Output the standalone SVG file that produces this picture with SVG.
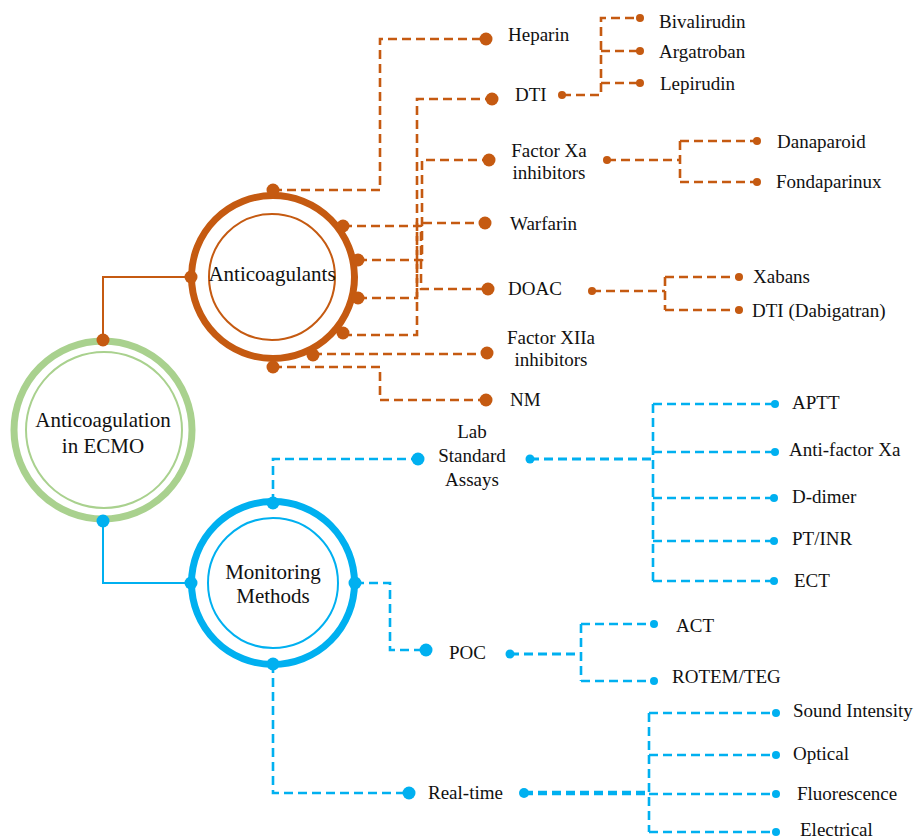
<svg xmlns="http://www.w3.org/2000/svg" width="917" height="839" viewBox="0 0 917 839" font-family="'Liberation Serif', 'Times New Roman', 'DejaVu Serif', serif">
<style>
text{font-family:'Liberation Serif','Times New Roman','DejaVu Serif',serif;fill:#111;}
.leaf{font-size:19px;}
.hub{font-size:21px;text-anchor:middle;}
.mid{text-anchor:middle;}
.o{stroke:#C55A11;fill:none;}
.b{stroke:#00B0F0;fill:none;}
.d{stroke-width:2.6;stroke-dasharray:9 5;}
.of{fill:#C55A11;}
.bf{fill:#00B0F0;}
</style>
<rect width="917" height="839" fill="#fff"/>
<g id="connectors">
  <path class="o" stroke-width="2" d="M103,340 V277 H191"/>
  <path class="b" stroke-width="2" d="M103,521 V583 H191"/>
  <path class="o d" d="M273,190 H380 V39 H486"/>
  <path class="o d" d="M343,335 H417 V99 H492"/>
  <path class="o d" d="M358,260 H422 V160 H489"/>
  <path class="o d" d="M358,298 H417 V223 H485"/>
  <path class="o d" d="M343,226 H421 V289 H488"/>
  <path class="o d" d="M313,354 H487"/>
  <path class="o d" d="M273,367 H380 V400 H486"/>
  <path class="o d" d="M562,95 H601 V18 H640 M601,51 H640 M601,83 H640"/>
  <path class="o d" d="M607,160 H680 M680,141 V182 M680,141 H757 M680,182 H757"/>
  <path class="o d" d="M592,291 H665 M665,277 V310 M665,277 H739 M665,310 H739"/>
  <path class="b d" d="M273,503 V459 H418"/>
  <path class="b d" d="M355,583 H390 V650 H426"/>
  <path class="b d" d="M273,664 V793 H409"/>
  <path class="b" stroke-width="3" stroke-dasharray="9 5" d="M530,459 H653"/>
  <path class="b d" d="M653,404 V581 M653,404 H775 M653,452 H775 M653,498 H774 M653,541 H774 M653,581 H774"/>
  <path class="b" stroke-width="3" stroke-dasharray="9 5" d="M510,654 H581"/>
  <path class="b d" d="M581,624 V681 M581,624 H654 M581,681 H654"/>
  <path class="b" stroke-width="4.5" stroke-dasharray="9 5" d="M524,793 H645"/>
  <path class="b d" d="M649,713 V832 M649,713 H776 M649,755 H776 M649,794 H776 M649,832 H776"/>
</g>
<g id="ecmo">
  <circle cx="103" cy="430" r="89" fill="none" stroke="#A9D18E" stroke-width="7"/>
  <circle cx="104" cy="430" r="78" fill="none" stroke="#A9D18E" stroke-width="2"/>
  <circle cx="103" cy="340" r="6.5" class="of"/>
  <circle cx="103" cy="521" r="6.5" class="bf"/>
  <text class="hub" x="103" y="427">Anticoagulation</text>
  <text class="hub" x="103" y="453">in ECMO</text>
</g>
<g id="anticoagulants">
  <circle cx="273" cy="277" r="81.5" fill="none" stroke="#C55A11" stroke-width="7"/>
  <circle cx="272" cy="277" r="63" fill="none" stroke="#C55A11" stroke-width="2"/>
  <circle cx="191" cy="277" r="6.5" class="of"/>
  <circle cx="273" cy="190" r="6.5" class="of"/>
  <circle cx="343" cy="226" r="6.5" class="of"/>
  <circle cx="358" cy="260" r="6.5" class="of"/>
  <circle cx="358" cy="298" r="6.5" class="of"/>
  <circle cx="343" cy="333" r="6.5" class="of"/>
  <circle cx="313" cy="355" r="6.5" class="of"/>
  <circle cx="273" cy="367" r="6.5" class="of"/>
  <text class="hub" x="272" y="281">Anticoagulants</text>
</g>
<g id="monitoring">
  <circle cx="273" cy="583" r="81.5" fill="none" stroke="#00B0F0" stroke-width="7"/>
  <circle cx="273" cy="583" r="65" fill="none" stroke="#00B0F0" stroke-width="2"/>
  <circle cx="191" cy="583" r="6.5" class="bf"/>
  <circle cx="273" cy="503" r="6.5" class="bf"/>
  <circle cx="355" cy="583" r="6.5" class="bf"/>
  <circle cx="273" cy="664" r="6.5" class="bf"/>
  <text class="hub" x="273" y="579">Monitoring</text>
  <text class="hub" x="273" y="603">Methods</text>
</g>
<g id="heparin"><circle cx="486" cy="39" r="6.5" class="of"/><text class="leaf" x="508" y="41">Heparin</text></g>
<g id="dti"><circle cx="492" cy="99" r="6.5" class="of"/><text class="leaf" x="515" y="101">DTI</text><circle cx="562" cy="95" r="4" class="of"/></g>
<g id="bivalirudin"><circle cx="640" cy="18" r="4" class="of"/><text class="leaf" x="659" y="28">Bivalirudin</text></g>
<g id="argatroban"><circle cx="640" cy="51" r="4" class="of"/><text class="leaf" x="659" y="58">Argatroban</text></g>
<g id="lepirudin"><circle cx="640" cy="83" r="4" class="of"/><text class="leaf" x="660" y="90">Lepirudin</text></g>
<g id="factorxa"><circle cx="489" cy="160" r="6.5" class="of"/><text class="leaf mid" x="549" y="157">Factor Xa</text><text class="leaf mid" x="549" y="179">inhibitors</text><circle cx="607" cy="160" r="4" class="of"/></g>
<g id="danaparoid"><circle cx="757" cy="141" r="4" class="of"/><text class="leaf" x="777" y="148">Danaparoid</text></g>
<g id="fondaparinux"><circle cx="757" cy="182" r="4" class="of"/><text class="leaf" x="776" y="188">Fondaparinux</text></g>
<g id="warfarin"><circle cx="485" cy="223" r="6.5" class="of"/><text class="leaf" x="510" y="230">Warfarin</text></g>
<g id="doac"><circle cx="488" cy="289" r="6.5" class="of"/><text class="leaf" x="508" y="295">DOAC</text><circle cx="592" cy="291" r="4" class="of"/></g>
<g id="xabans"><circle cx="739" cy="277" r="4" class="of"/><text class="leaf" x="753" y="283">Xabans</text></g>
<g id="dabigatran"><circle cx="739" cy="310" r="4" class="of"/><text class="leaf" x="752" y="317">DTI (Dabigatran)</text></g>
<g id="factorxiia"><circle cx="487" cy="353" r="6.5" class="of"/><text class="leaf mid" x="551" y="344">Factor XIIa</text><text class="leaf mid" x="551" y="366">inhibitors</text></g>
<g id="nm"><circle cx="486" cy="400" r="6.5" class="of"/><text class="leaf" x="510" y="406">NM</text></g>
<g id="lab"><circle cx="418" cy="459" r="6.5" class="bf"/><text class="leaf mid" x="472" y="438">Lab</text><text class="leaf mid" x="472" y="462">Standard</text><text class="leaf mid" x="472" y="486">Assays</text><circle cx="530" cy="459" r="4.5" class="bf"/></g>
<g id="aptt"><circle cx="775" cy="404" r="4" class="bf"/><text class="leaf" x="792" y="409">APTT</text></g>
<g id="antixa"><circle cx="775" cy="452" r="4" class="bf"/><text class="leaf" x="789" y="456">Anti-factor Xa</text></g>
<g id="ddimer"><circle cx="774" cy="498" r="4" class="bf"/><text class="leaf" x="792" y="503">D-dimer</text></g>
<g id="ptinr"><circle cx="774" cy="541" r="4" class="bf"/><text class="leaf" x="792" y="545">PT/INR</text></g>
<g id="ect"><circle cx="774" cy="581" r="4" class="bf"/><text class="leaf" x="794" y="587">ECT</text></g>
<g id="poc"><circle cx="426" cy="650" r="6.5" class="bf"/><text class="leaf" x="449" y="659">POC</text><circle cx="510" cy="654" r="4.5" class="bf"/></g>
<g id="act"><circle cx="654" cy="624" r="4" class="bf"/><text class="leaf" x="676" y="632">ACT</text></g>
<g id="rotem"><circle cx="654" cy="681" r="4" class="bf"/><text class="leaf" x="672" y="683">ROTEM/TEG</text></g>
<g id="realtime"><circle cx="409" cy="793" r="6.5" class="bf"/><text class="leaf" x="428" y="799">Real-time</text><circle cx="524" cy="793" r="5" class="bf"/></g>
<g id="sound"><circle cx="776" cy="713" r="4" class="bf"/><text class="leaf" x="793" y="717">Sound Intensity</text></g>
<g id="optical"><circle cx="776" cy="755" r="4" class="bf"/><text class="leaf" x="793" y="760">Optical</text></g>
<g id="fluorescence"><circle cx="776" cy="794" r="4" class="bf"/><text class="leaf" x="797" y="800">Fluorescence</text></g>
<g id="electrical"><circle cx="776" cy="832" r="4" class="bf"/><text class="leaf" x="800" y="836">Electrical</text></g>
</svg>
